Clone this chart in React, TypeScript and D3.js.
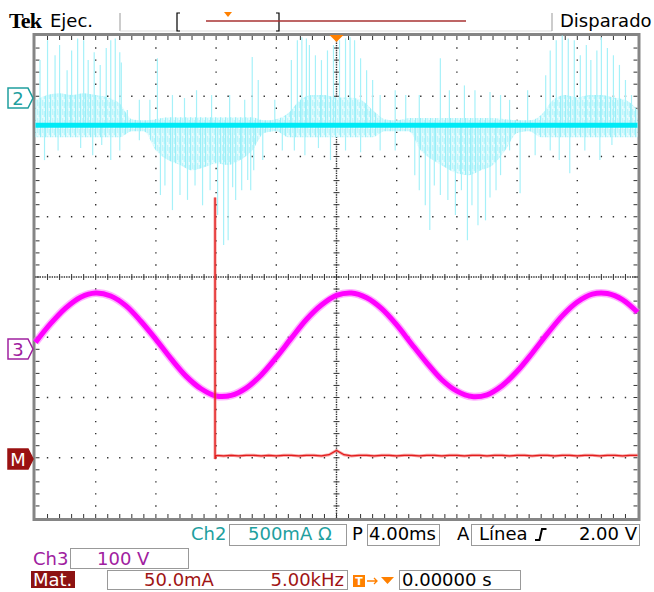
import React from 'react';
import * as d3 from 'd3';

// time base: 4 ms/div, trigger at the centre of the screen
const timeRange = [-20, 20];

// Ch2 (500 mA/div): trace sits a bit below its marker
const ch2Position = 2.97; // div
const ch2Scale = 500; // mA per div
const ch2Dc = -225; // mA
// dense part of the noise, sampled every 0.8 ms from -20 ms
const ch2DenseUp = [210, 250, 265, 250, 265, 250, 230, 180, 50, 40, 50, 65, 65, 65, 65, 65, 65, 65, 65, 40, 50, 100, 210, 250, 250, 230, 230, 210, 125, 50, 40, 60, 60, 60, 60, 60, 60, 60, 60, 50, 40, 40, 85, 210, 250, 230, 250, 250, 230, 210, 125];
const ch2DenseDown = [-100, -100, -100, -100, -100, -100, -100, -100, -50, -50, -210, -290, -330, -375, -350, -315, -330, -290, -210, -65, -50, -100, -100, -100, -100, -100, -100, -100, -100, -50, -50, -50, -210, -290, -350, -400, -415, -375, -330, -210, -65, -50, -100, -100, -100, -100, -100, -100, -100, -100, -100];
// tallest spikes [ms, mA]
const ch2Spikes = [
  [-19.7, 540], [-19.2, 705], [-18.7, 580], [-18.4, 665], [-17.9, 455], [-17.6, 620], [-17.2, 720], [-16.8, 705],
  [-16.5, 540], [-16.1, 605], [-15.7, 500], [-15.3, 640], [-15.0, 705], [-14.7, 720], [-14.4, 605], [-14.3, 520],
  [-19.4, -290], [-18.5, -210], [-17.0, -190], [-16.2, -250], [-15.6, -165], [-15.0, -290], [-14.4, -210],
  [-13.9, 125], [-13.1, 210], [-13.1, -125],
  [-12.4, 210], [-11.9, 555], [-10.9, 250], [-10.1, 225], [-9.3, 290], [-8.3, 250], [-7.1, 250], [-6.1, 210], [-5.6, 565],
  [-11.7, -580], [-11.4, -500], [-10.9, -705], [-10.4, -580], [-9.9, -620], [-9.4, -500], [-8.9, -665], [-8.4, -540],
  [-7.9, -745], [-7.5, -995], [-7.2, -955], [-6.9, -515], [-6.7, -620], [-6.3, -540], [-5.9, -455], [-5.7, -540], [-5.5, -375],
  [-5.2, 375], [-4.9, -290], [-4.1, 210], [-3.6, -210],
  [-3.0, 540], [-2.6, 705], [-2.3, 730], [-2.0, 720], [-1.8, 665], [-1.4, 580], [-1.0, 540], [-0.6, 620],
  [-0.2, 665], [0.2, 705], [0.6, 720], [0.9, 730], [1.2, 705], [1.6, 555], [2.0, 455], [2.4, 375],
  [-2.8, -210], [-2.1, -250], [-1.2, -190], [-0.4, -290], [0.6, -210], [1.6, -225],
  [2.9, 250], [2.9, -210], [3.9, 290], [3.9, -210], [4.6, 250],
  [5.2, -415], [5.5, -540], [5.9, -665], [6.2, -870], [6.5, -500], [6.9, -580], [7.4, -620], [7.9, -745],
  [8.3, -540], [8.7, -955], [9.0, -665], [9.4, -830], [9.9, -790], [10.2, -600], [10.6, -540], [10.9, -415],
  [5.5, 250], [6.9, 555], [7.5, 290], [8.5, 330], [9.2, 290], [10.2, 275], [10.9, 250],
  [11.5, 210], [11.5, -210], [12.2, -565], [12.7, 290], [13.2, -250],
  [13.9, 415], [14.2, 620], [14.6, 705], [15.0, 745], [15.4, 720], [15.8, 705], [16.2, 580], [16.6, 665],
  [16.9, 540], [17.3, 620], [17.6, 730], [18.0, 640], [18.4, 580], [18.8, 500], [19.2, 375], [19.6, 250],
  [14.2, -210], [14.8, -290], [15.5, -400], [16.5, -210], [17.5, -290], [18.3, -165],
];

// Ch3 (100 V/div), one sample per ms from -20 ms
const ch3Position = -1.195;
const ch3Scale = 100;
const ch3Volts = [11, 42, 68, 86, 93, 88, 72, 46, 16, -16, -45, -66, -78, -77, -65, -43, -14, 18, 49, 73, 89, 93, 85, 67, 40, 8, -23, -51, -70, -79, -76, -61, -37, -7, 25, 55, 78, 91, 92, 82, 61];

// Math (50 mA/div): step at -8.07 ms, then samples every 0.5 ms from -8 ms
const mathPosition = -3.02;
const mathScale = 50;
const mathStep = [-8.07, 217];
const mathValues = [3, 2.5, 3, 2.5, 3, 3, 2.5, 3, 2.5, 3, 3, 2.5, 3, 3, 2.5, 3.5, 7, 3.5, 2.5, 3, 3, 2.5, 3, 3, 2.5, 3, 3, 2.5, 3, 3, 2.5, 3, 3, 2.5, 3, 3, 2.5, 3, 3, 2.5, 3, 3, 2.5, 3, 3, 2.5, 3, 3, 2.5, 3, 3, 2.5, 3, 3, 2.5, 3, 3];

const font = '"DejaVu Sans", Verdana, sans-serif';
const teal = '#1f9f9f';
const purple = '#a020a0';
const darkRed = '#a01414';
const orange = '#ff8000';

export default function App() {
  const xDiv = d3.scaleLinear().domain([0, 10]).range([35.5, 637.5]);
  const yDiv = d3.scaleLinear().domain([-4, 4]).range([518, 36]);
  const x = d3.scaleLinear().domain(timeRange).range([35.5, 637.5]);
  const ch2Y = (v: number) => yDiv(ch2Position + (v + ch2Dc) / ch2Scale);
  const ch3Y = (v: number) => yDiv(ch3Position + v / ch3Scale);
  const mY = (v: number) => yDiv(mathPosition + v / mathScale);

  // graticule
  let dots = '';
  const dot = (px: number, py: number) => { dots += `M${px - 0.7},${py - 0.7}h1.4v1.4h-1.4z`; };
  d3.range(1, 10).filter(i => i !== 5).forEach(i => {
    d3.range(1, 40).forEach(k => dot(xDiv(i), yDiv(-4 + k / 5)));
  });
  d3.range(-3, 4).filter(j => j !== 0).forEach(j => {
    d3.range(1, 50).forEach(k => dot(xDiv(k / 5), yDiv(j)));
  });
  // centre lines: fine dots + ticks
  d3.range(0, 251).forEach(k => dot(xDiv(k / 25), yDiv(0)));
  d3.range(0, 201).forEach(k => dot(xDiv(5), yDiv(-4 + k / 25)));
  let ticks = '';
  d3.range(1, 50).forEach(k => {
    const px = xDiv(k / 5);
    ticks += `M${px},${yDiv(0) - 3}v6`;
    ticks += `M${px},36v4M${px},518v-4`;
  });
  d3.range(1, 40).forEach(k => {
    const py = yDiv(-4 + k / 5);
    ticks += `M${xDiv(5) - 3},${py}h6`;
    ticks += `M35.5,${py}h4M637.5,${py}h-4`;
  });

  const envTimes = ch2DenseUp.map((_, i) => timeRange[0] + 0.8 * i);
  const denseArea = d3.area<number>()
    .x((_, i) => x(envTimes[i]))
    .y0((_, i) => ch2Y(ch2DenseDown[i]))
    .y1(d => ch2Y(d))
    .curve(d3.curveMonotoneX)(ch2DenseUp);

  const sineLine = d3.line<number>()
    .x((_, i) => x(timeRange[0] + i))
    .y(d => ch3Y(d))
    .curve(d3.curveCatmullRom)(ch3Volts);

  const mathPts: [number, number][] = [[x(mathStep[0]), mY(mathStep[1])], [x(mathStep[0]), mY(0)]];
  mathValues.forEach((v, i) => mathPts.push([x(-8 + 0.5 * i), mY(v)]));
  const mathLine = d3.line()(mathPts);

  const marker = (cy: number) => `M8,${cy - 10}H28L33,${cy}L28,${cy + 10}H8Z`;
  const c2 = yDiv(ch2Position), c3 = yDiv(ch3Position), cm = yDiv(mathPosition);

  return (
    <svg width={654} height={592} style={{ position: 'absolute', left: 0, top: 0, background: '#fff' }} fontFamily={font}>
      <defs>
        <pattern id="hair" width={5} height={9} patternUnits="userSpaceOnUse">
          <rect width={5} height={9} fill="#e6fcfe" />
          <rect x={0} width={1.2} height={9} fill="#98eff8" />
          <rect x={2.2} y={1} width={1} height={6} fill="#b4f4fb" />
          <rect x={3.8} y={3} width={0.9} height={6} fill="#a8f2fa" />
        </pattern>
      </defs>
      <rect width={654} height={592} fill="#fff" />

      {/* header */}
      <text x={9} y={28} fontFamily='"Liberation Serif", serif' fontWeight="bold" fontSize={22} letterSpacing={-0.8}>Tek</text>
      <text x={50} y={27} fontSize={18}>Ejec.</text>
      <line x1={120} x2={120} y1={13} y2={31} stroke="#999" />
      <line x1={120} x2={552} y1={31} y2={31} stroke="#ddd" />
      <line x1={552} x2={552} y1={13} y2={31} stroke="#999" />
      <path d="M180,13H177V31H180M276,13H279V31H276" fill="none" stroke="#000" strokeWidth={1.2} />
      <line x1={206} x2={466} y1={21} y2={21} stroke="#a83232" strokeWidth={1.5} />
      <path d="M224,12H232L228,17Z" fill={orange} />
      <text x={560} y={27} fontSize={18}>Disparado</text>

      {/* graticule */}
      <path d={dots} fill="#333" />
      <path d={ticks} stroke="#333" strokeWidth={1} fill="none" />
      <rect x={34} y={34.5} width={605} height={485} fill="none" stroke="#858585" strokeWidth={3} />
      <path d={`M${xDiv(5) - 7},35H${xDiv(5) + 7}L${xDiv(5)},42Z`} fill={orange} />

      {/* Ch2 */}
      <path d={denseArea!} fill="url(#hair)" />
      {ch2Spikes.map(([t, v], i) => (
        <line key={i} x1={x(t)} x2={x(t)} y1={ch2Y(0)} y2={ch2Y(v)} stroke="#a6f1f9" strokeWidth={1.2} />
      ))}
      <line x1={35.5} x2={637.5} y1={ch2Y(0)} y2={ch2Y(0)} stroke="#00eaf6" strokeWidth={5} />

      {/* Ch3 */}
      <path d={sineLine!} fill="none" stroke="#ff66ff" strokeOpacity={0.5} strokeWidth={8} />
      <path d={sineLine!} fill="none" stroke="#ff00ff" strokeWidth={5} />

      {/* Math */}
      <path d={mathLine!} fill="none" stroke="#f06060" strokeOpacity={0.6} strokeWidth={3} />
      <path d={mathLine!} fill="none" stroke="#e21c1c" strokeWidth={1.3} />

      {/* channel markers */}
      <path d={marker(c2)} fill="#fff" stroke={teal} strokeWidth={1.5} />
      <text x={18} y={c2 + 7} fontSize={18} fill={teal} textAnchor="middle">2</text>
      <path d={marker(c3)} fill="#fff" stroke={purple} strokeWidth={1.5} />
      <text x={18} y={c3 + 7} fontSize={18} fill={purple} textAnchor="middle">3</text>
      <path d={marker(cm)} fill="#9a1212" stroke="#9a1212" strokeWidth={1.5} />
      <text x={18} y={cm + 7} fontSize={18} fill="#fff" textAnchor="middle">M</text>

      {/* status row 1 */}
      <text x={191} y={540} fontSize={18} fill={teal}>Ch2</text>
      <rect x={229.5} y={524.5} width={117} height={21} fill="none" stroke="#999" />
      <text x={248} y={540} fontSize={18} fill={teal}>500mA Ω</text>
      <text x={352} y={540} fontSize={18}>P</text>
      <rect x={367.5} y={524.5} width={72} height={21} fill="none" stroke="#999" />
      <text x={369} y={540} fontSize={18}>4.00ms</text>
      <text x={457} y={540} fontSize={18}>A</text>
      <rect x={471.5} y={524.5} width={168} height={21} fill="none" stroke="#999" />
      <text x={479} y={540} fontSize={18}>Línea</text>
      <path d="M535,540H539.5L542,529H546.5" fill="none" stroke="#000" strokeWidth={2} />
      <text x={637} y={540} fontSize={18} textAnchor="end">2.00 V</text>

      {/* status row 2 */}
      <text x={33} y={565} fontSize={18} fill={purple}>Ch3</text>
      <rect x={70.5} y={548.5} width={118} height={20} fill="none" stroke="#999" />
      <text x={97} y={565} fontSize={18} fill={purple}>100 V</text>

      {/* status row 3 */}
      <rect x={31} y={571} width={44} height={17} fill="#8c1212" />
      <text x={33} y={586} fontSize={18} fill="#fff">Mat.</text>
      <rect x={107.5} y={570.5} width={240} height={19} fill="none" stroke="#999" />
      <text x={144} y={586} fontSize={18} fill={darkRed}>50.0mA</text>
      <text x={344} y={586} fontSize={18} fill={darkRed} textAnchor="end">5.00kHz</text>
      <rect x={353} y={575} width={12} height={12} fill={orange} />
      <text x={359} y={585} fontSize={11} fill="#fff" fontWeight="bold" textAnchor="middle">T</text>
      <path d="M367,581H377M374,578L377,581L374,584" fill="none" stroke={orange} strokeWidth={1.3} />
      <path d="M381,577H394L387.5,584Z" fill={orange} />
      <rect x={399.5} y={570.5} width={121} height={19} fill="none" stroke="#999" />
      <text x={402} y={586} fontSize={18}>0.00000 s</text>
    </svg>
  );
}
